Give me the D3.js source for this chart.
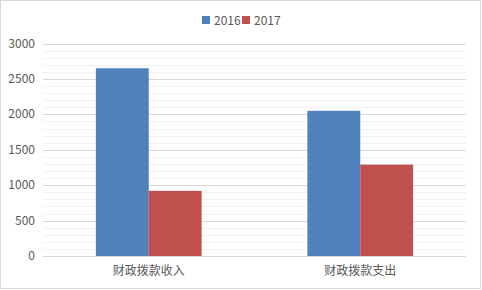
<!DOCTYPE html>
<html>
<head>
<meta charset="utf-8">
<script src="https://cdn.jsdelivr.net/npm/d3@7"></script>
<style>
  body { margin: 0; background: #fff; }
  text { font-family: "Noto Sans CJK SC", "Liberation Sans", sans-serif; fill: #595959; }
</style>
</head>
<body>
<script>
var categories = ["财政拨款收入", "财政拨款支出"];
var seriesNames = ["2016", "2017"];
var values2016 = [2650, 2050];
var values2017 = [920, 1290];
var yTicks = [0, 500, 1000, 1500, 2000, 2500, 3000];
var colors = ["#4F81BD", "#C0504D"];

drawChart();

function drawChart() {
  var width = 482, height = 290,
      plotLeft = 43, plotRight = 466, plotTop = 43.5, plotBottom = 256;

  var svg = d3.select("body").append("svg")
      .attr("width", width)
      .attr("height", height);

  svg.append("rect")
      .attr("x", 0.5).attr("y", 0.5)
      .attr("width", width - 2).attr("height", height - 2)
      .attr("fill", "#fff").attr("stroke", "#d9d9d9");

  var x = d3.scaleBand().domain(categories).range([plotLeft, plotRight]);
  var x1 = d3.scaleBand().domain(seriesNames).range([0, x.bandwidth()]).paddingOuter(1).paddingInner(0);
  var y = d3.scaleLinear().domain([0, 3000]).range([plotBottom, plotTop]);

  // minor grid every 100
  var minor = d3.range(100, 3000, 100).filter(function(v) { return v % 500 != 0; });
  svg.append("g").selectAll("line").data(minor).enter().append("line")
      .attr("x1", plotLeft).attr("x2", plotRight)
      .attr("y1", function(d) { return Math.round(y(d)) + 0.5; })
      .attr("y2", function(d) { return Math.round(y(d)) + 0.5; })
      .attr("stroke", "#f0f0f0");

  svg.append("g").selectAll("line").data(yTicks).enter().append("line")
      .attr("x1", plotLeft).attr("x2", plotRight)
      .attr("y1", function(d) { return Math.round(y(d)) + 0.5; })
      .attr("y2", function(d) { return Math.round(y(d)) + 0.5; })
      .attr("stroke", "#d9d9d9");

  svg.append("g").selectAll("text").data(yTicks).enter().append("text")
      .attr("x", 35)
      .attr("y", function(d) { return y(d) + 4; })
      .attr("text-anchor", "end")
      .style("font-size", "12px")
      .text(function(d) { return d; });

  var series = [values2016, values2017];
  series.forEach(function(vals, s) {
    svg.append("g").selectAll("rect").data(vals).enter().append("rect")
        .attr("x", function(d, i) { return x(categories[i]) + x1(seriesNames[s]); })
        .attr("width", x1.bandwidth())
        .attr("y", function(d) { return y(d); })
        .attr("height", function(d) { return y(0) - y(d); })
        .attr("fill", colors[s]);
  });

  svg.append("g").selectAll("text").data(categories).enter().append("text")
      .attr("x", function(d) { return x(d) + x.bandwidth() / 2; })
      .attr("y", 275)
      .attr("text-anchor", "middle")
      .style("font-size", "12px")
      .text(function(d) { return d; });

  // legend
  var legendX = [202, 242];
  var legend = svg.append("g");
  seriesNames.forEach(function(n, i) {
    legend.append("rect")
        .attr("x", legendX[i]).attr("y", 16)
        .attr("width", 8).attr("height", 8)
        .attr("fill", colors[i]);
    legend.append("text")
        .attr("x", legendX[i] + 12).attr("y", 24.5)
        .style("font-size", "12px")
        .text(n);
  });
}
</script>
</body>
</html>
